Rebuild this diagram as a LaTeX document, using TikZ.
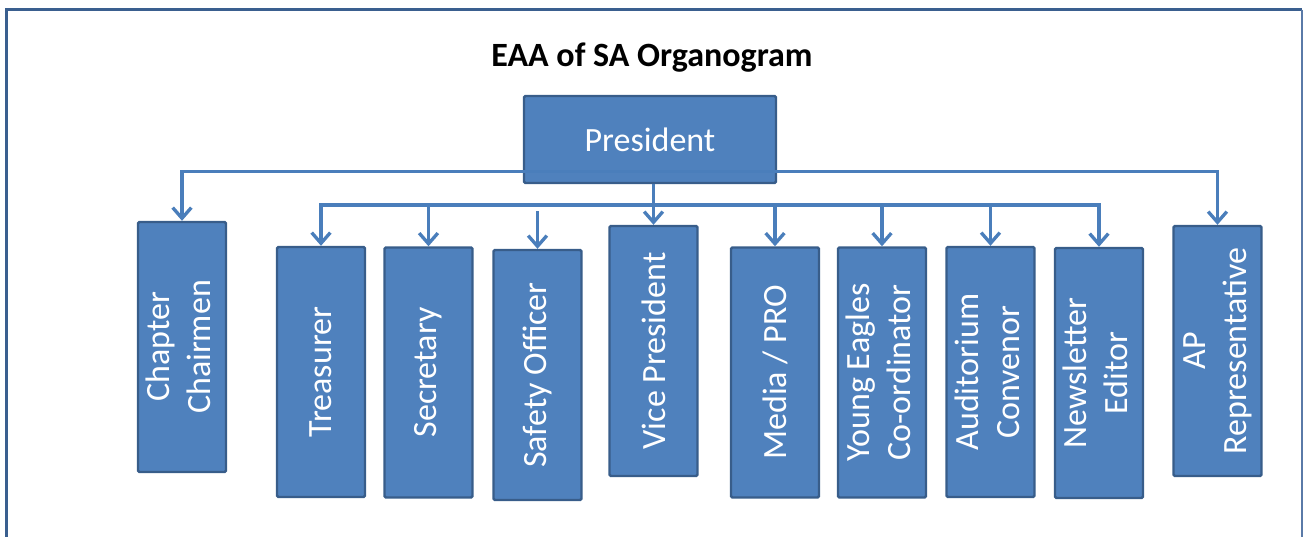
\documentclass[tikz,border=0pt]{standalone}
\usepackage{fontspec}
\setmainfont{Carlito}
\usetikzlibrary{arrows.meta}
\definecolor{boxfill}{HTML}{4F81BD}
\definecolor{boxline}{HTML}{385D8A}
\definecolor{connline}{HTML}{4A7EBB}
\definecolor{frameline}{HTML}{3A5F8F}
\definecolor{frameright}{HTML}{5A7AA8}
\begin{document}
\begin{tikzpicture}[x=0.75pt,y=-0.75pt,
  orgbox/.style={draw=boxline,fill=boxfill,line width=1.8pt,rounded corners=1pt,
    inner sep=0pt,minimum width=66pt,minimum height=187.5pt,text=white,
    font=\fontsize{25.5}{31}\selectfont,align=center},
  presbox/.style={orgbox,minimum width=189pt,minimum height=65.25pt},
  conn/.style={draw=connline,line width=2.5pt},
  arr/.style={conn,-{Straight Barb[length=8pt,width=14pt,line width=2.5pt]}}]
\useasboundingbox (0,0) rectangle (1304,536);
% outer frame
\draw[frameline,line width=2.3pt] (6.5,540) -- (6.5,9.5) -- (1302,9.5);
\draw[frameright,line width=1.4pt] (1302,9.5) -- (1302,540);
% title
\node[font=\fontsize{25.5}{30.6}\selectfont\bfseries] (title) at (652,58) {EAA of SA Organogram};
% boxes
\node[presbox] (pres) at (650,139.5) {President};
\node[orgbox] (chap) at (182,347) {\rotatebox{90}{\begin{tabular}{@{}c@{}}Chapter\\Chairmen\end{tabular}}};
\node[orgbox] (treas) at (321,372) {\rotatebox{90}{Treasurer}};
\node[orgbox] (secr) at (428.5,372.5) {\rotatebox{90}{Secretary}};
\node[orgbox] (safe) at (537.5,375) {\rotatebox{90}{Safety Officer}};
\node[orgbox] (vp) at (653.5,351) {\rotatebox{90}{Vice President}};
\node[orgbox] (media) at (775,372.5) {\rotatebox{90}{Media / PRO}};
\node[orgbox] (ye) at (882,372.5) {\rotatebox{90}{\begin{tabular}{@{}c@{}}Young Eagles\\Co-ordinator\end{tabular}}};
\node[orgbox] (aud) at (990.5,372) {\rotatebox{90}{\begin{tabular}{@{}c@{}}Auditorium\\Convenor\end{tabular}}};
\node[orgbox] (news) at (1099,373) {\rotatebox{90}{\begin{tabular}{@{}c@{}}Newsletter\\Editor\end{tabular}}};
\node[orgbox] (ap) at (1217.5,351) {\rotatebox{90}{\begin{tabular}{@{}c@{}}AP\\Representative\end{tabular}}};
% hubs
\coordinate (hubA) at (653,171.5);
\coordinate (hubB) at (653,205);
\coordinate (safetop) at (537.5,211);
% connectors
\draw[arr] (hubA) -| (chap.north);
\draw[arr] (hubA) -| (ap.north);
\draw[arr] (pres.south -| vp.north) -- (vp.north);
\draw[arr] (hubB) -| (treas.north);
\draw[arr] (hubB) -| (secr.north);
\draw[arr] (safetop) -- (safe.north);
\draw[arr] (hubB) -| (media.north);
\draw[arr] (hubB) -| (ye.north);
\draw[arr] (hubB) -| (aud.north);
\draw[arr] (hubB) -| (news.north);
\end{tikzpicture}
\end{document}
